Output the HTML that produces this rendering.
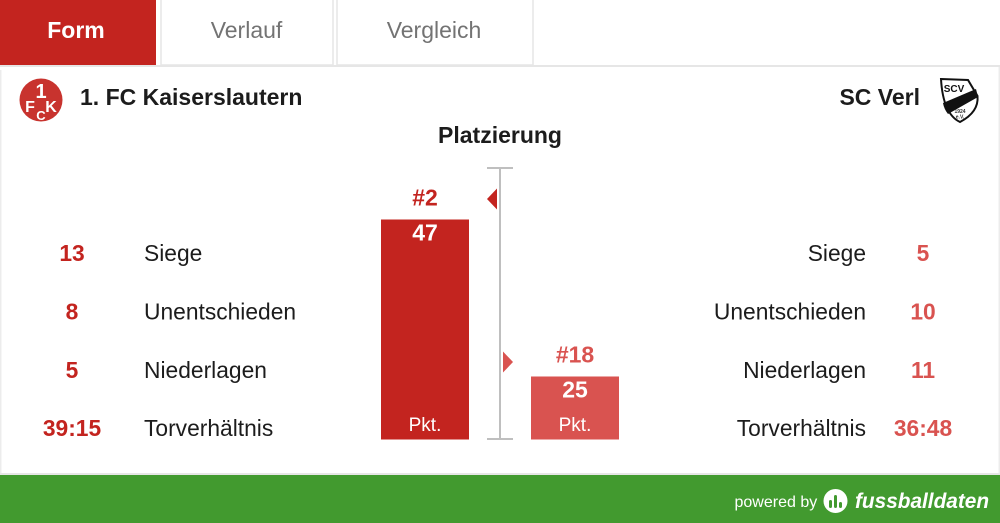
<!DOCTYPE html>
<html lang="de">
<head>
<meta charset="utf-8">
<title>Form</title>
<style>
html,body{margin:0;padding:0;background:#fff;}
svg{display:block;}
text{font-family:"Liberation Sans",sans-serif;}
</style>
</head>
<body>
<svg id="chart" width="1000" height="523" viewBox="0 0 1000 523" xmlns="http://www.w3.org/2000/svg">
  <rect width="1000" height="523" fill="#fff"/>

  <g>
    <rect x="0" y="0" width="156" height="65" fill="#c3241f"/>
    <text x="76" y="38" text-anchor="middle" font-size="23" font-weight="700" fill="#fff">Form</text>
    <rect x="161" y="-2" width="172" height="67" fill="#fff" stroke="#e6e6e6" stroke-width="1.5"/>
    <text x="246.500" y="38" text-anchor="middle" font-size="23" fill="#737373">Verlauf</text>
    <rect x="337" y="-2" width="196" height="67" fill="#fff" stroke="#e6e6e6" stroke-width="1.5"/>
    <text x="434" y="38" text-anchor="middle" font-size="23" fill="#737373">Vergleich</text>
    <rect x="0" y="65" width="1000" height="2" fill="#e6e6e6"/>
  </g>

  <rect x="0" y="70" width="1.500" height="403" fill="#ececec"/>
  <rect x="998.500" y="67" width="1.500" height="406" fill="#ececec"/>

  <g>
    <circle cx="41" cy="100" r="21.500" fill="#c8332e"/>
    <text x="41" y="98" text-anchor="middle" font-size="20" font-weight="700" fill="#fff">1</text>
    <text x="30" y="112" text-anchor="middle" font-size="16" font-weight="700" fill="#fff">F</text>
    <text x="51" y="112" text-anchor="middle" font-size="16" font-weight="700" fill="#fff">K</text>
    <text x="41" y="120" text-anchor="middle" font-size="13" font-weight="700" fill="#fff">C</text>
  </g>
  <text x="80" y="105" font-size="23" font-weight="700" fill="#1c1c1c">1. FC Kaiserslautern</text>
  <text x="920" y="105" text-anchor="end" font-size="23" font-weight="700" fill="#1c1c1c">SC Verl</text>

  <g>
    <path d="M941 79 L968 80 L977.500 96 Q979 112 960 122 Q943 114 941 79 Z" fill="#fff" stroke="#111" stroke-width="2"/>
    <path d="M943 103 L976 89 L978 97 L948 114 Q944 109 943 103 Z" fill="#111"/>
    <text x="954" y="92" text-anchor="middle" font-size="10" font-weight="700" fill="#111">SCV</text>
    <text x="960" y="113" text-anchor="middle" font-size="5" font-weight="700" fill="#333">1924</text>
    <text x="960" y="118.500" text-anchor="middle" font-size="5" font-weight="700" fill="#333">e.V.</text>
  </g>

  <text x="500" y="143" text-anchor="middle" font-size="23" font-weight="700" fill="#1c1c1c">Platzierung</text>

  <g font-size="22.800">
    <text x="72" y="261" text-anchor="middle" font-weight="700" fill="#c3241f">13</text>
    <text x="144" y="261" fill="#1c1c1c">Siege</text>
    <text x="72" y="319.500" text-anchor="middle" font-weight="700" fill="#c3241f">8</text>
    <text x="144" y="319.500" fill="#1c1c1c">Unentschieden</text>
    <text x="72" y="378" text-anchor="middle" font-weight="700" fill="#c3241f">5</text>
    <text x="144" y="378" fill="#1c1c1c">Niederlagen</text>
    <text x="72" y="436" text-anchor="middle" font-weight="700" fill="#c3241f">39:15</text>
    <text x="144" y="436" fill="#1c1c1c">Torverhältnis</text>
  </g>

  <g font-size="22.800">
    <text x="866" y="261" text-anchor="end" fill="#1c1c1c">Siege</text>
    <text x="923" y="261" text-anchor="middle" font-weight="700" fill="#d95350">5</text>
    <text x="866" y="319.500" text-anchor="end" fill="#1c1c1c">Unentschieden</text>
    <text x="923" y="319.500" text-anchor="middle" font-weight="700" fill="#d95350">10</text>
    <text x="866" y="378" text-anchor="end" fill="#1c1c1c">Niederlagen</text>
    <text x="923" y="378" text-anchor="middle" font-weight="700" fill="#d95350">11</text>
    <text x="866" y="436" text-anchor="end" fill="#1c1c1c">Torverhältnis</text>
    <text x="923" y="436" text-anchor="middle" font-weight="700" fill="#d95350">36:48</text>
  </g>

  <g>
    <rect x="499" y="168" width="2" height="271" fill="#bfbfbf"/>
    <rect x="487" y="167" width="26" height="2" fill="#bfbfbf"/>
    <rect x="487" y="438" width="26" height="2" fill="#bfbfbf"/>
  </g>

  <g id="marks"></g>

  <g>
    <rect x="0" y="473" width="1000" height="2" fill="#e6e6e6"/>
    <rect x="0" y="475" width="1000" height="48" fill="#429a2f"/>
    <text x="734.500" y="507" font-size="16" fill="#fff">powered by</text>
    <g>
      <circle cx="835.500" cy="501" r="12" fill="#fff"/>
      <rect x="829" y="500" width="3" height="8" rx="1.500" fill="#429a2f"/>
      <rect x="834" y="495" width="3" height="13" rx="1.500" fill="#429a2f"/>
      <rect x="839" y="502" width="3" height="6" rx="1.500" fill="#429a2f"/>
    </g>
    <text x="855" y="508" font-size="20.800" font-weight="700" font-style="italic" fill="#fff">fussballdaten</text>
  </g>
</svg>

<script>
const teams = ['1. FC Kaiserslautern', 'SC Verl'];
const points = [47, 25];
const ranks = [2, 18];
const unitLabels = ['Pkt.', 'Pkt.'];

const svgNS = 'http://www.w3.org/2000/svg';
const marks = document.getElementById('marks');
const colors = ['#c3241f', '#d95350'];
const barLeft = [381, 531];
const barWidth = 88;
const baseline = 439.5;
const markerDir = [-1, 1];
const markerX = [497, 503];

function yPoints(v) {
  return baseline - (v - 16.17) * 7.136;
}
function yRank(r) {
  return 199 + (r - 2) * 10.19;
}
function make(tag, attrs, text) {
  const el = document.createElementNS(svgNS, tag);
  for (const k in attrs) el.setAttribute(k, attrs[k]);
  if (text !== undefined) el.textContent = text;
  marks.appendChild(el);
  return el;
}

points.forEach(function (value, i) {
  const top = yPoints(value);
  const cx = barLeft[i] + barWidth / 2;

  const bar = make('rect', {x: barLeft[i], y: top, width: barWidth, height: baseline - top, fill: colors[i]});
  
  

  const valueText = make('text', {x: cx, y: top + 21, 'text-anchor': 'middle', 'font-size': 23, 'font-weight': 700, fill: '#fff'}, value);
  
  

  const unitText = make('text', {x: cx, y: 431, 'text-anchor': 'middle', 'font-size': 19, fill: '#fff'}, unitLabels[i]);
  
  

  const rankText = make('text', {x: cx, y: top - 14, 'text-anchor': 'middle', 'font-size': 23, 'font-weight': 700, fill: colors[i]}, '#' + ranks[i]);
  
  

  const my = yRank(ranks[i]);
  const tipX = markerX[i] + markerDir[i] * 10;
  const marker = make('polygon', {
    points: markerX[i] + ',' + (my - 10.5) + ' ' + tipX + ',' + my + ' ' + markerX[i] + ',' + (my + 10.5),
    fill: colors[i]
  });
  
  
});
</script>
</body>
</html>
